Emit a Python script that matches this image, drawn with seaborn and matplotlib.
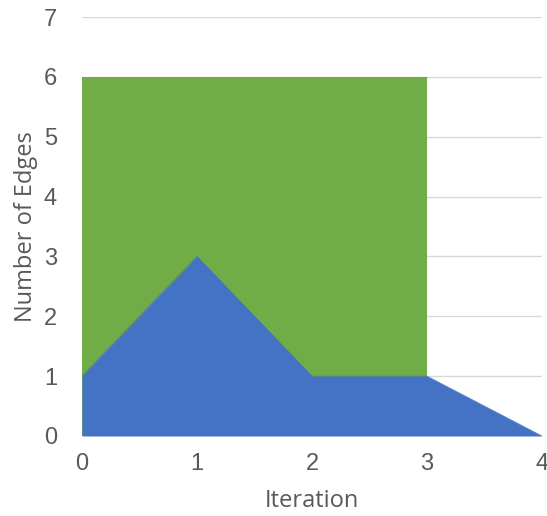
import matplotlib
matplotlib.use("Agg")
import matplotlib.pyplot as plt
import seaborn as sns
import numpy as np
import pandas as pd

iterations = [0, 1, 2, 3, 4]
green_values = [6, 6, 6, 6, np.nan]
blue_values = [1, 3, 1, 1, 0]
x_ticks = [0, 1, 2, 3, 4]
y_ticks = [0, 1, 2, 3, 4, 5, 6, 7]

sns.set_theme(style="white")
plt.rcParams['font.family'] = ['Liberation Sans', 'DejaVu Sans']

df = pd.DataFrame({"Iteration": iterations, "Green": green_values, "Blue": blue_values})

fig = plt.figure(figsize=(5.47, 5.16), dpi=100)
ax = fig.add_axes([82/547, 1-436/516, (542-82)/547, (436-17)/516])

green_c = "#70AD47"
blue_c = "#4472C4"
gd = df.dropna(subset=["Green"])
ax.fill_between(gd["Iteration"], 0, gd["Green"], color=green_c, lw=0, zorder=2)
ax.fill_between(df["Iteration"], 0, df["Blue"], color=blue_c, lw=0, zorder=3)
sns.lineplot(data=gd, x="Iteration", y="Green", color=green_c, lw=0.5, ax=ax, zorder=2)
sns.lineplot(data=df, x="Iteration", y="Blue", color=blue_c, lw=0.5, ax=ax, zorder=3)

ax.set_xlim(0, 4)
ax.set_ylim(0, 7)
ax.set_xticks(x_ticks)
ax.set_yticks(y_ticks)
ax.grid(axis="y", color="#D9D9D9", lw=1, zorder=0)
ax.set_axisbelow(True)
for s in ax.spines.values():
    s.set_visible(False)
ax.tick_params(axis="both", length=0, labelsize=17, labelcolor="#595959")
ax.tick_params(axis="x", pad=12)
ax.tick_params(axis="y", pad=18)
ax.set_xlabel("Iteration", fontsize=17, color="#595959", family=["Open Sans", "DejaVu Sans"], labelpad=10)
ax.set_ylabel("Number of Edges", fontsize=17, color="#595959", family=["Open Sans", "DejaVu Sans"], labelpad=4)

fig.savefig("out.png", dpi=100)
